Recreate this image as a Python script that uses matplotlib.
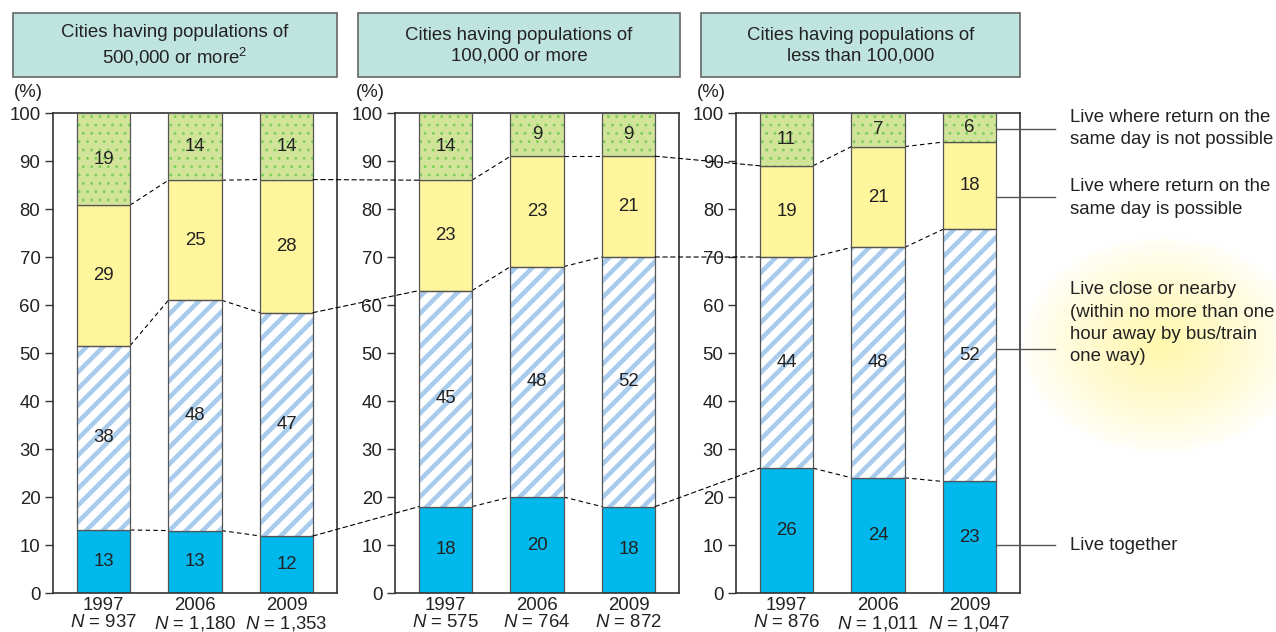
import numpy as np
import matplotlib
matplotlib.use("Agg")
import matplotlib.pyplot as plt
from matplotlib.patches import ConnectionPatch, Rectangle

plt.rcParams['font.family'] = ['Liberation Sans', 'DejaVu Sans']
plt.rcParams['mathtext.fontset'] = 'custom'
plt.rcParams['mathtext.rm'] = 'Liberation Sans'
plt.rcParams['mathtext.it'] = 'Liberation Sans:italic'
plt.rcParams['hatch.linewidth'] = 3.3

# data
panels = ["Cities having populations of\n500,000 or more$^{2}$",
          "Cities having populations of\n100,000 or more",
          "Cities having populations of\nless than 100,000"]
years = ["1997", "2006", "2009"]
n_counts = [["937", "1,180", "1,353"],
            ["575", "764", "872"],
            ["876", "1,011", "1,047"]]
live_together = [[13, 13, 12], [18, 20, 18], [26, 24, 23]]
live_close = [[38, 48, 47], [45, 48, 52], [44, 48, 52]]
same_day = [[29, 25, 28], [23, 23, 21], [19, 21, 18]]
not_same_day = [[19, 14, 14], [14, 9, 9], [11, 7, 6]]
categories = ["Live together",
              "Live close or nearby\n(within no more than one\nhour away by bus/train\none way)",
              "Live where return on the\nsame day is possible",
              "Live where return on the\nsame day is not possible"]

W, H = 1276, 632
fs = 13.4
fig = plt.figure(figsize=(W / 100, H / 100), dpi=100)

# soft yellow glow behind the "live close" label
bg = fig.add_axes([0, 0, 1, 1], zorder=-5)
bg.set_xlim(0, W)
bg.set_ylim(H, 0)
bg.axis('off')
gx, gy = np.meshgrid(np.linspace(-1, 1, 300), np.linspace(-1, 1, 220))
r = np.sqrt(gx ** 2 + gy ** 2)
alpha = np.clip(1 - r, 0, 1) ** 0.8
img = np.zeros((220, 300, 4))
img[..., 0] = 1.0
img[..., 1] = 0.965
img[..., 2] = 0.64
img[..., 3] = alpha * 0.9
bg.imshow(img, extent=(1020, 1305, 455, 235), interpolation='bilinear', aspect='auto')

ax_left = [53, 395, 736]
ax_w = 284
ax_top, ax_bot = 113, 593
box_left = [13, 358, 701]
box_right = [337, 680, 1020]

blue = '#00b8ec'
hatch_blue = '#a9cbec'
yellow = '#fff59c'
green = '#d2e49a'
dot_green = '#7fcf5c'
edge = '#555555'
bw = 0.58
x = np.arange(3)

axes = []
bounds = []
for p in range(3):
    ax = fig.add_axes([ax_left[p] / W, (H - ax_bot) / H, ax_w / W, (ax_bot - ax_top) / H])
    ax.set_xlim(-0.552, 2.552)
    ax.set_ylim(0, 100)
    vals = np.array([live_together[p], live_close[p], same_day[p], not_same_day[p]], float)
    vals = vals / vals.sum(axis=0) * 100
    cum = np.vstack([np.zeros(3), np.cumsum(vals, axis=0)])
    bounds.append(cum)
    for k in range(4):
        bot = cum[k]
        h = vals[k]
        if k == 0:
            ax.bar(x, h, bw, bottom=bot, color=blue, edgecolor=edge, linewidth=0.9, zorder=2)
        elif k == 1:
            ax.bar(x, h, bw, bottom=bot, color='white', linewidth=0, zorder=2)
            ax.bar(x, h, bw, bottom=bot, color='none', edgecolor=hatch_blue, hatch='//',
                   linewidth=0, zorder=2)
            ax.bar(x, h, bw, bottom=bot, color='none', edgecolor=edge, linewidth=0.9, zorder=3)
        elif k == 2:
            ax.bar(x, h, bw, bottom=bot, color=yellow, edgecolor=edge, linewidth=0.9, zorder=2)
        else:
            ax.bar(x, h, bw, bottom=bot, color=green, linewidth=0, zorder=2)
            with plt.rc_context({'hatch.linewidth': 0.9}):
                ax.bar(x, h, bw, bottom=bot, color='none', edgecolor=dot_green, hatch='..',
                       linewidth=0, zorder=2)
            ax.bar(x, h, bw, bottom=bot, color='none', edgecolor=edge, linewidth=0.9, zorder=3)
        raw = [live_together, live_close, same_day, not_same_day][k][p]
        for i in range(3):
            ax.text(x[i], bot[i] + h[i] / 2, str(raw[i]), ha='center', va='center',
                    fontsize=fs, color='#222222', zorder=4)
    # within-panel dashed connectors
    for k in range(1, 4):
        for i in range(2):
            ax.plot([x[i] + bw / 2, x[i + 1] - bw / 2], [cum[k][i], cum[k][i + 1]],
                    color='black', lw=0.8, ls=(0, (4, 3)), zorder=1)
    ax.set_yticks(np.arange(0, 101, 10))
    ax.tick_params(axis='y', direction='out', length=6, width=1, labelsize=fs,
                   color='#333333', labelcolor='#222222', pad=3)
    ax.set_xticks(x)
    ax.set_xticklabels([f"{years[i]}\n$N$ = {n_counts[p][i]}" for i in range(3)],
                       fontsize=fs, linespacing=1.0, color='#222222')
    ax.tick_params(axis='x', length=0, pad=3)
    for s in ax.spines.values():
        s.set_linewidth(1.2)
        s.set_color('#333333')
    ax.text(-0.088, 1.025, "(%)", transform=ax.transAxes, fontsize=fs,
            ha='center', va='bottom', color='#222222')
    # header box
    bx0, bx1 = box_left[p] / W, box_right[p] / W
    fig.add_artist(Rectangle((bx0, (H - 77) / H), bx1 - bx0, 64 / H, transform=fig.transFigure,
                             facecolor='#bfe4e0', edgecolor='#666666', linewidth=1.2))
    fig.text((bx0 + bx1) / 2, (H - 46) / H, panels[p], ha='center', va='center',
             fontsize=fs, linespacing=1.3, color='#222222')
    axes.append(ax)

# dashed connectors between panels
for p in range(2):
    for k in range(1, 4):
        con = ConnectionPatch(xyA=(x[2] + bw / 2, bounds[p][k][2]), coordsA=axes[p].transData,
                              xyB=(x[0] - bw / 2, bounds[p + 1][k][0]), coordsB=axes[p + 1].transData,
                              color='black', lw=0.8, ls=(0, (4, 3)), zorder=5)
        fig.add_artist(con)

# category labels on the right
ax3 = axes[2]
x_end = ax3.transData.inverted().transform(fig.transFigure.transform((1055 / W, 0)))[0]
x_txt = ax3.transData.inverted().transform(fig.transFigure.transform((1070 / W, 0)))[0]
leader_y = [10, 50.8, 82.5, 96.6]
text_y = [10, 56.2, 82.3, 96.8]
for k in range(4):
    ax3.plot([x[2] + bw / 2, x_end], [leader_y[k], leader_y[k]], color='#555555', lw=1.0,
             clip_on=False, zorder=5)
    ax3.text(x_txt, text_y[k], categories[k], ha='left', va='center', fontsize=fs,
             linespacing=1.4, color='#222222', clip_on=False)

fig.savefig("out.png", dpi=100)
